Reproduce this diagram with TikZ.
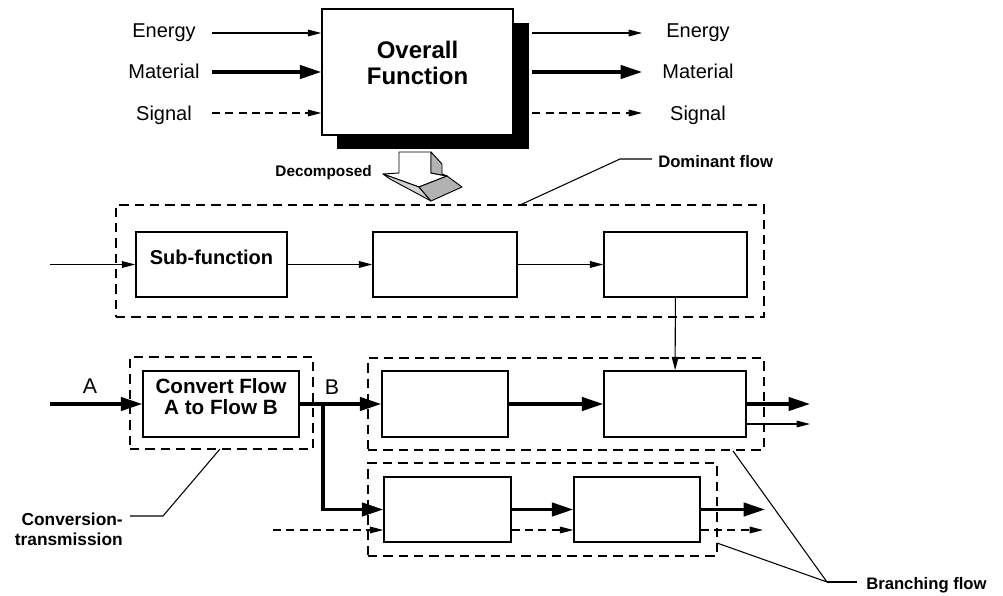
\documentclass[tikz,border=0pt]{standalone}
\usepackage{fontspec}
\setmainfont{Liberation Sans}
\usetikzlibrary{arrows.meta,fit,calc}
\begin{document}
\begin{tikzpicture}[x=0.75pt,y=-0.75pt,
  box/.style={draw, line width=1.1pt, fill=white, inner sep=0pt, align=center,
    font=\bfseries\fontsize{15.5}{15.75}\selectfont},
  shadowbox/.style={fill=black, inner sep=0pt},
  group/.style={draw, line width=1.1pt, dash pattern=on 7pt off 4.5pt, inner sep=0pt},
  thinarr/.style={line width=0.8pt, -{Triangle[length=10pt,width=5pt]}},
  thickarr/.style={line width=2.4pt, -{Triangle[length=16pt,width=10pt]}},
  sigarr/.style={thinarr, dash pattern=on 6pt off 4pt},
  leader/.style={line width=0.8pt},
  lbl/.style={font=\fontsize{15}{15}\selectfont, inner sep=0pt},
  flowlbl/.style={font=\fontsize{16}{16}\selectfont, inner sep=0pt},
  note/.style={font=\bfseries\fontsize{12.5}{14.5}\selectfont, inner sep=0pt},
  face/.style={line width=0.7pt, line join=round}
]
\useasboundingbox (0,0) rectangle (1003,596);

% ---------- overall function ----------
\node[shadowbox, fit={(337,23)(529,149)}] (shadow) {};
\node[box, font=\bfseries\fontsize{18}{19.5}\selectfont, fit={(322,9)(513,135)}] (ov) {Overall\\Function};

\node[lbl, anchor=base] (eL) at (164,37) {Energy};
\node[lbl, anchor=base] (mL) at (164,78) {Material};
\node[lbl, anchor=base] (sL) at (164,120) {Signal};
\node[lbl, anchor=base] (eR) at (698,37) {Energy};
\node[lbl, anchor=base] (mR) at (698,78) {Material};
\node[lbl, anchor=base] (sR) at (698,120) {Signal};

\coordinate (ei) at (212,33);
\coordinate (mi) at (212,72);
\coordinate (si) at (212,113);
\coordinate (eo) at (642,33);
\coordinate (mo) at (642,72);
\coordinate (so) at (642,113);
\draw[thinarr] (ei) -- (ei -| ov.west);
\draw[thickarr] (mi) -- (mi -| ov.west);
\draw[sigarr] (si) -- (si -| ov.west);
\draw[thinarr] (eo -| shadow.east) ++(3,0) -- (eo);
\draw[thickarr] (mo -| shadow.east) ++(3,0) -- (mo);
\draw[sigarr] (so -| shadow.east) ++(3,0) -- (so);

% ---------- decomposed arrow ----------
\filldraw[face, fill=white] (399,152) -- (431,152) -- (431,173) -- (447,176) -- (419,187) -- (383,174) -- (399,173) -- cycle;
\filldraw[face, fill=gray!60] (431,152) -- (442,164) -- (442,174) -- (447,176) -- (431,173) -- cycle;
\filldraw[face, fill=gray!35] (383,174) -- (419,187) -- (431,201) -- (390,179) -- cycle;
\filldraw[face, fill=gray!60] (419,187) -- (447,176) -- (462,187) -- (431,201) -- cycle;
\node[note, font=\bfseries\fontsize{11.5}{13}\selectfont, anchor=base east] (dec) at (372,176) {Decomposed};

% ---------- dominant flow ----------
\node[group, fit={(116,205)(764,317)}] (dom) {};
\node[box, font=\bfseries\fontsize{15}{15}\selectfont, fit={(136,232)(287,297)}] (s1) {Sub-function};
\node[box, fit={(373,232)(517,297)}] (s2) {};
\node[box, fit={(604,232)(747,297)}] (s3) {};
\coordinate (in1) at (50,264.5);
\draw[thinarr] (in1) -- (s1.west);
\draw[thinarr] (s1) -- (s2);
\draw[thinarr] (s2) -- (s3);

% ---------- conversion ----------
\node[group, fit={(130,357)(313,449)}] (cg) {};
\node[box, fit={(143,371)(299,437)}] (conv) {Convert Flow\\A to Flow B};

% ---------- branching rows ----------
\node[group, fit={(368,358)(764,450)}] (g2) {};
\node[box, fit={(382,371)(508,437)}] (r2a) {};
\node[box, fit={(604,371)(746,437)}] (r2b) {};
\node[group, fit={(368,463)(717,556)}] (g3) {};
\node[box, fit={(384,477)(511,542)}] (r3a) {};
\node[box, fit={(574,477)(700,542)}] (r3b) {};

\draw[thinarr] (s3) -- (r2b);

\coordinate (ain) at (50,404);
\draw[thickarr] (ain) -- (conv.west);
\node[flowlbl, anchor=base] (A) at (90,393) {A};
\node[flowlbl, anchor=base] (B) at (332,394) {B};
\draw[thickarr] (conv.east) -- (r2a.west);
\coordinate (br) at (323,404);
\draw[thickarr] (br) |- (r3a.west);
\draw[thickarr] (r2a) -- (r2b);
\coordinate (o1) at (810,404);
\coordinate (o2) at (810,424);
\draw[thickarr] (r2b) -- (o1);
\draw[thinarr] (r2b.east |- o2) -- (o2);

\draw[thickarr] (r3a) -- (r3b);
\coordinate (d0) at (273,530);
\draw[sigarr] (d0) -- (d0 -| r3a.west);
\draw[sigarr] (r3a.east |- d0) -- (r3b.west |- d0);
\coordinate (o3) at (765,509.5);
\coordinate (o4) at (763,530);
\draw[thickarr] (r3b) -- (o3);
\draw[sigarr] (r3b.east |- o4) -- (o4);

% ---------- leaders ----------
\coordinate (dl1) at (520,205);
\coordinate (dl2) at (620,159);
\coordinate (dl3) at (652,159);
\draw[leader] (dl1) -- (dl2) -- (dl3);
\node[note, anchor=base west] (domL) at (658,167) {Dominant flow};

\coordinate (cl1) at (220,449);
\coordinate (cl2) at (163,516);
\coordinate (cl3) at (130,516);
\draw[leader] (cl1) -- (cl2) -- (cl3);
\node[note, font=\bfseries\fontsize{13}{15}\selectfont, align=right, anchor=east] (convL) at (123,529) {Conversion-\\transmission};

\coordinate (bl1) at (733,451);
\coordinate (bl2) at (717,543);
\coordinate (bl3) at (827,582);
\coordinate (bl4) at (857,582);
\draw[leader] (bl1) -- (bl3) -- (bl2);
\draw[leader] (bl3) -- (bl4);
\node[note, anchor=base west] (brL) at (866,589) {Branching flow};
\end{tikzpicture}
\end{document}
